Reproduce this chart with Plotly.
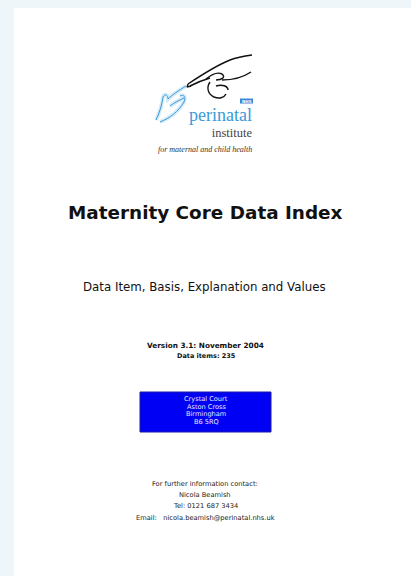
import plotly.graph_objects as go

W, H = 411, 576
PAGE_BG = "#EEF6FA"

logo_words = ["perinatal", "institute", "for maternal and child health"]
title = "Maternity Core Data Index"
subtitle = "Data Item, Basis, Explanation and Values"
version_lines = ["Version 3.1: November 2004", "Data items: 235"]
address_lines = ["Crystal Court", "Aston Cross", "Birmingham", "B6 5RQ"]
contact_lines = ["For further information contact:", "Nicola Beamish",
                 "Tel: 0121 687 3434", "Email:   nicola.beamish@perinatal.nhs.uk"]

fig = go.Figure()
fig.update_layout(
    width=W, height=H, margin=dict(l=0, r=0, t=0, b=0, autoexpand=False),
    paper_bgcolor=PAGE_BG, plot_bgcolor=PAGE_BG, showlegend=False,
    xaxis=dict(range=[0, W], visible=False, fixedrange=True),
    yaxis=dict(range=[H, 0], visible=False, fixedrange=True),
)

shapes = []
# white page
shapes.append(dict(type="rect", x0=14, x1=W + 5, y0=8, y1=H + 5, fillcolor="white", line_width=0, layer="below"))
# address box
shapes.append(dict(type="rect", x0=140, x1=271, y0=392, y1=432, fillcolor="#0000F4", line=dict(color="#1a1aa0", width=1)))

# logo: black hand
black_paths = [
    "M 188 84 C 200 76, 215 66, 230 60 C 238 57, 245 56, 252 55",
    "M 190 86 C 196 83, 203 80, 210 78",
    "M 206 79 C 212 74, 218 72, 222 74 C 226 77, 222 80, 216 80",
    "M 210 82 C 206 88, 208 94, 214 97 C 219 99, 224 98, 226 94",
    "M 216 86 C 222 84, 228 86, 228 90",
    "M 222 80 C 232 80, 242 78, 251 72",
    "M 188 84 L 187 87 L 191 86",
]
for p in black_paths:
    shapes.append(dict(type="path", path=p, line=dict(color="#111111", width=1.4)))
# blue hand (glow + line)
blue_paths = [
    "M 156 120 C 160 112, 162 104, 163 97 C 165 93, 168 95, 168 99 C 172 95, 178 91, 186 86",
    "M 160 122 C 170 118, 178 112, 184 102 C 186 97, 184 94, 180 96",
    "M 170 106 C 175 102, 180 100, 184 98",
]
for p in blue_paths:
    shapes.append(dict(type="path", path=p, line=dict(color="#d6ebf8", width=4)))
for p in blue_paths:
    shapes.append(dict(type="path", path=p, line=dict(color="#3a9ad9", width=1)))
# NHS mark
shapes.append(dict(type="rect", x0=240, x1=253, y0=98.5, y1=103.5, fillcolor="#3d86d6", line_width=0))
fig.update_layout(shapes=shapes)

ann = []
def t(x, y, s, size, color="#111111", family="DejaVu Sans", bold=False, italic=False,
      anchor="center", align="center"):
    if bold:
        s = "<b>" + s + "</b>"
    if italic:
        s = "<i>" + s + "</i>"
    ann.append(dict(x=x, y=y, xref="x", yref="y", text=s, showarrow=False,
                    xanchor=anchor, yanchor="middle", align=align,
                    font=dict(size=size, color=color, family=family)))

t(246.5, 101, "NHS", 4, color="white", bold=True)
logo_text = ("<span style='font-size:18px;color:#3a9ad9'>%s</span><br>"
             "<span style='font-size:12.5px;color:#444444'>%s</span>") % (logo_words[0], logo_words[1])
t(254, 122, logo_text, 12, color="#444444", family="Liberation Serif", anchor="right", align="right")
t(205, 149, logo_words[2], 8, color="#333333", family="Liberation Serif", italic=True)

t(205, 212, title, 18.4, color="#111111", bold=True)
t(204, 287, subtitle, 11.8, color="#111111")
t(205.5, 345, version_lines[0], 7.3, bold=True)
t(206, 356, version_lines[1], 6.5, bold=True)

ys = [399, 406.5, 414, 421.5]
for y, s in zip(ys, address_lines):
    t(206, y, s, 6.6, color="#e8e8ff")

cys = [484, 495, 506, 518]
for y, s in zip(cys, contact_lines):
    t(205, y, s, 6.7, color="#222222")

fig.update_layout(annotations=ann)
fig.write_html("out.html", config={"displayModeBar": False},
               post_script="document.body.style.margin='0';document.body.style.background='%s';" % PAGE_BG)
